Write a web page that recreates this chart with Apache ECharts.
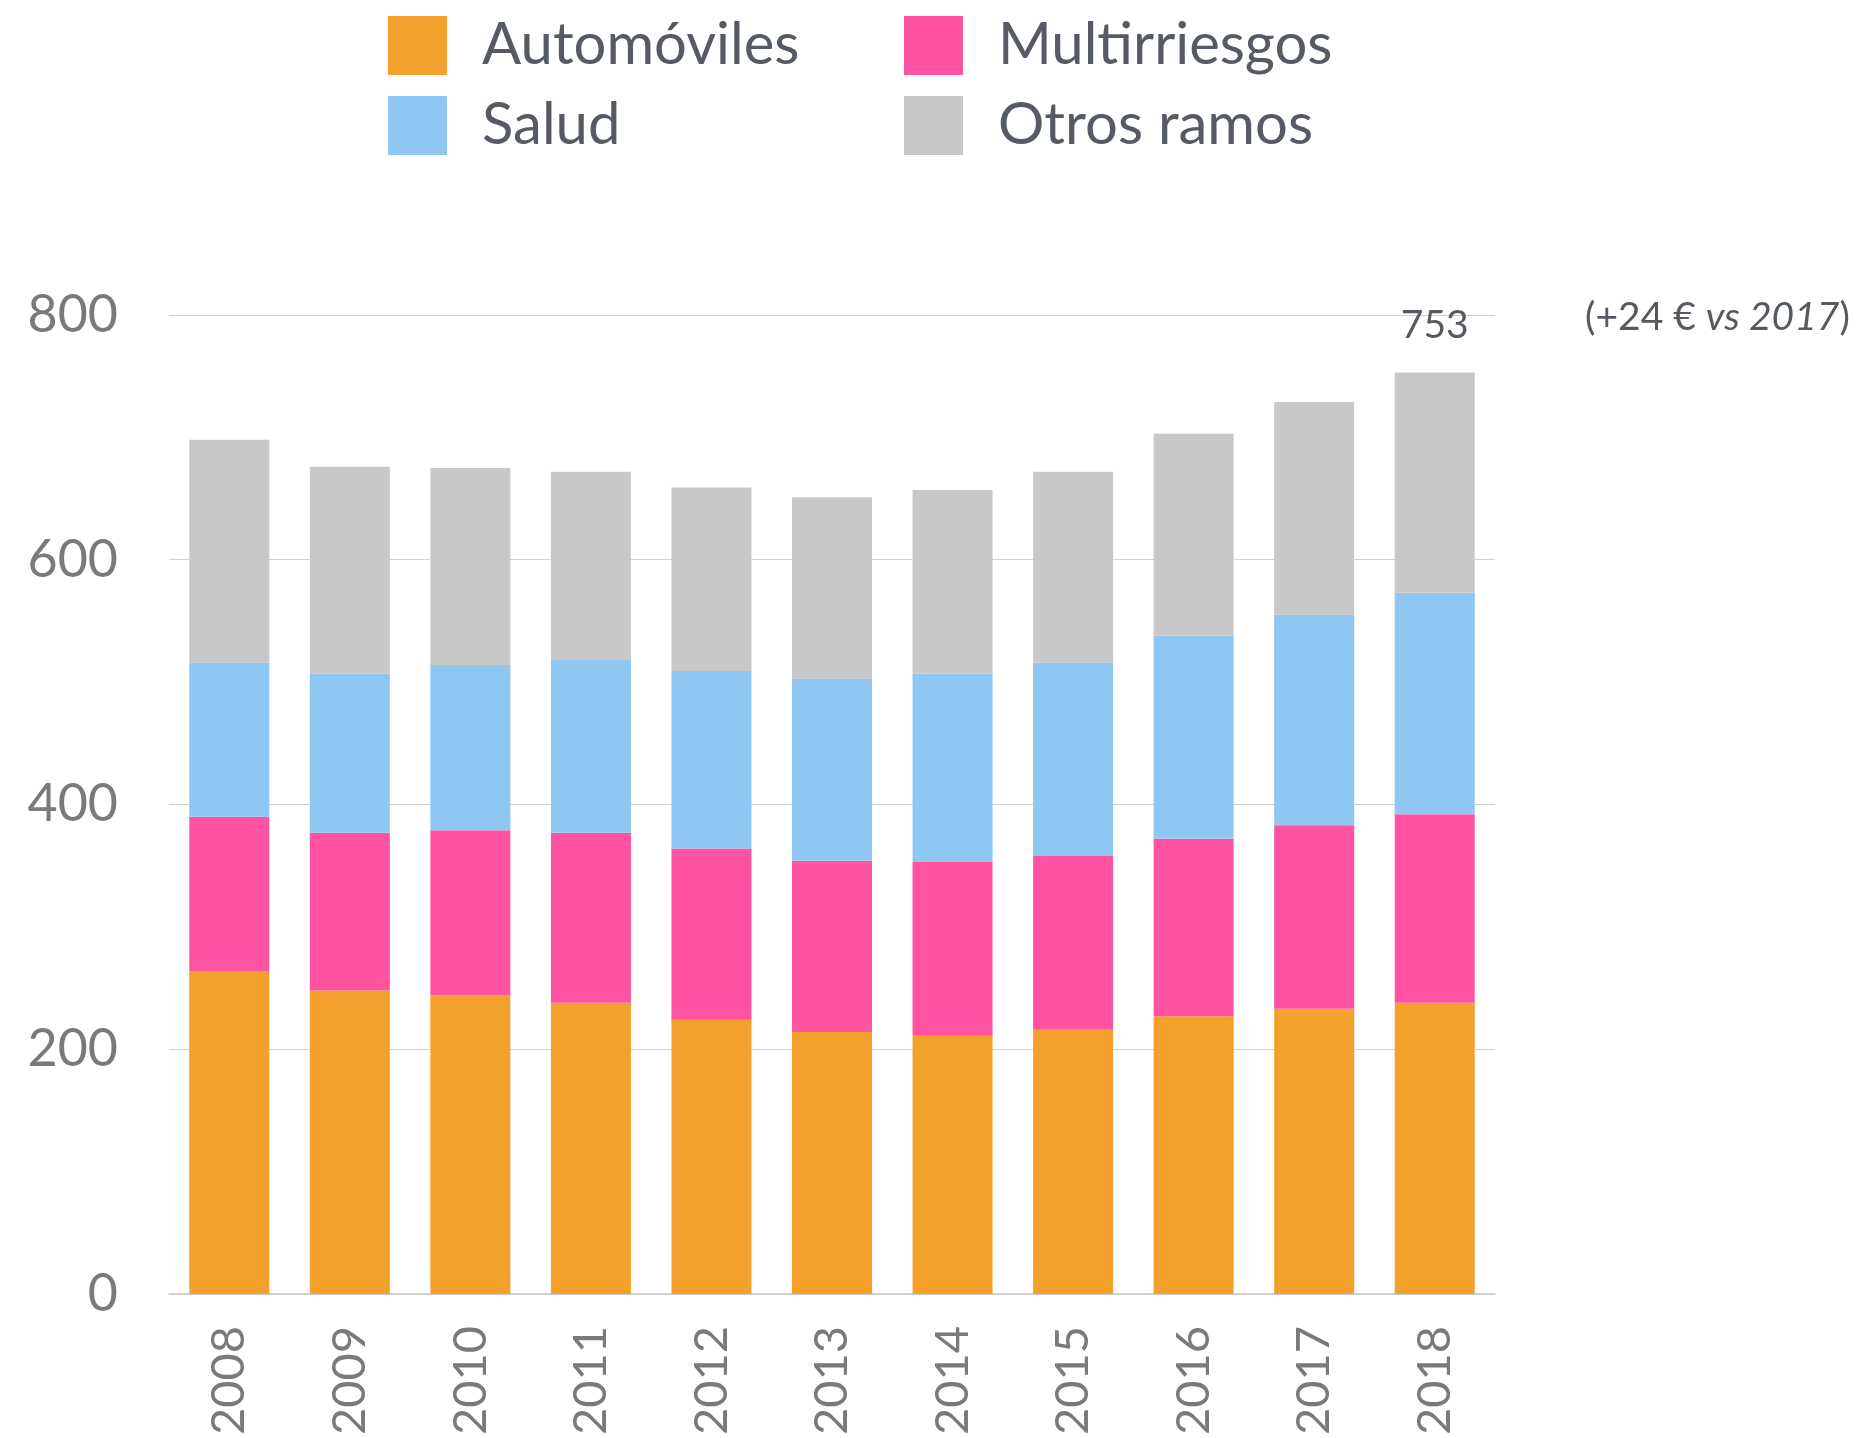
<!DOCTYPE html>
<html>
<head>
<meta charset="utf-8">
<script src="https://cdn.jsdelivr.net/npm/echarts@6/dist/echarts.min.js"></script>
<style>
  html, body { margin: 0; padding: 0; background: #fff; }
  #chart { width: 1860px; height: 1438px; }
</style>
</head>
<body>
<div id="chart"></div>
<script>
// Average premium per insured, by line of business (€)
const years = ['2008', '2009', '2010', '2011', '2012', '2013', '2014', '2015', '2016', '2017', '2018'];
const automoviles   = [264, 248, 244, 238, 224, 214, 211, 216, 227, 233, 238];
const multirriesgos = [126, 129, 135, 139, 140, 140, 142, 142, 145, 150, 154];
const salud         = [126, 130, 135, 141, 145, 149, 154, 158, 166, 172, 181];
const otrosRamos    = [182, 169, 161, 154, 150, 148, 150, 156, 165, 174, 180];
const yTicks = [0, 200, 400, 600, 800];

const totals = years.map((_, i) => automoviles[i] + multirriesgos[i] + salud[i] + otrosRamos[i]);
const last = years.length - 1;
const diff = totals[last] - totals[last - 1];

const FONT = 'Lato, "Open Sans", sans-serif';
const colors = {
  auto: '#F4A02C',
  multi: '#FF52A0',
  salud: '#8EC7F2',
  otros: '#C8C8C8'
};

const chart = echarts.init(document.getElementById('chart'));

function barSeries(name, data, color) {
  return {
    name: name,
    type: 'bar',
    stack: 'total',
    barWidth: 80,
    itemStyle: { color: color },
    emphasis: { disabled: true },
    data: data
  };
}

// total label above the latest bar
const otrosData = otrosRamos.map((v, i) => i === last ? {
  value: v,
  label: {
    show: true,
    position: 'top',
    distance: 28,
    formatter: () => String(totals[i]),
    fontFamily: FONT,
    fontSize: 39,
    color: '#555a60'
  }
} : v);

const legendText = {
  fontFamily: FONT,
  fontSize: 58,
  color: '#555a64',
  padding: [0, 0, 0, 30],
  lineHeight: 59
};

function legendColumn(left, names) {
  return {
    orient: 'vertical',
    left: left,
    top: 16,
    padding: 0,
    itemWidth: 59,
    itemHeight: 59,
    itemGap: 21,
    icon: 'rect',
    selectedMode: false,
    textStyle: legendText,
    data: names
  };
}

chart.setOption({
  animation: false,
  backgroundColor: '#ffffff',
  legend: [
    legendColumn(388, ['Automóviles', 'Salud']),
    legendColumn(904, ['Multirriesgos', 'Otros ramos'])
  ],
  grid: {
    left: 169,
    right: 365,
    top: 315,
    bottom: 141,
    containLabel: false
  },
  xAxis: {
    type: 'category',
    data: years,
    axisTick: { show: false },
    axisLine: { lineStyle: { color: '#c8c8c8', width: 1.5 } },
    axisLabel: {
      rotate: 90,
      margin: 32,
      fontFamily: FONT,
      fontSize: 47,
      color: '#7a7a7a'
    }
  },
  yAxis: {
    type: 'value',
    min: yTicks[0],
    max: yTicks[yTicks.length - 1],
    interval: yTicks[1] - yTicks[0],
    axisLine: { show: false },
    axisTick: { show: false },
    splitLine: { lineStyle: { color: '#d2d2d2', width: 1.2 } },
    axisLabel: {
      margin: 51,
      fontFamily: FONT,
      fontSize: 52,
      color: '#7a7a7a'
    }
  },
  graphic: [
    {
      type: 'text',
      left: 1585,
      top: 298,
      style: {
        text: '{n|(+' + diff + ' € }{i|vs ' + years[last - 1] + '}{n|)}',
        rich: {
          n: { fontFamily: FONT, fontSize: 39, fill: '#555a60' },
          i: { fontFamily: FONT, fontSize: 39, fontStyle: 'italic', fill: '#555a60' }
        }
      }
    }
  ],
  series: [
    barSeries('Automóviles', automoviles, colors.auto),
    barSeries('Multirriesgos', multirriesgos, colors.multi),
    barSeries('Salud', salud, colors.salud),
    barSeries('Otros ramos', otrosData, colors.otros)
  ]
});
</script>
</body>
</html>
